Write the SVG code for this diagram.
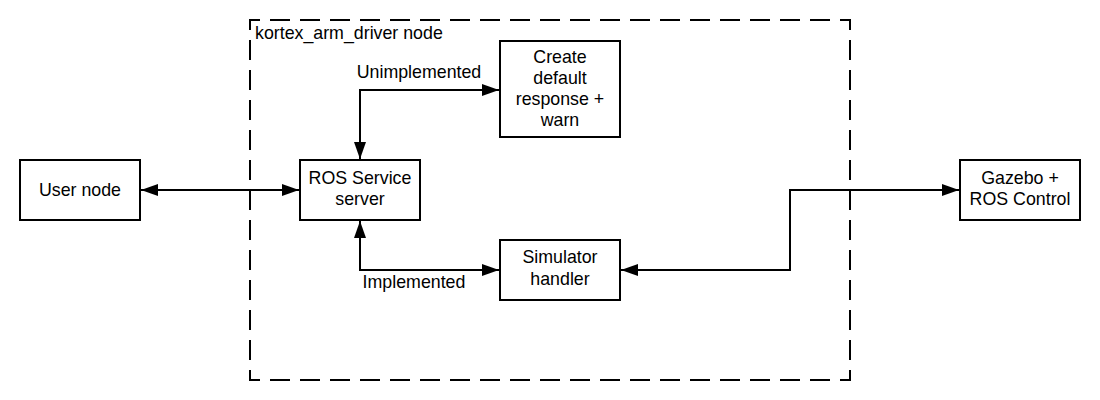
<svg xmlns="http://www.w3.org/2000/svg" width="1100" height="400" viewBox="0 0 1100 400">
  <style>
    .box { fill: #ffffff; stroke: #000000; stroke-width: 2; }
    .lbl { font-family: "Liberation Sans", Arial, sans-serif; font-size: 17.8px; fill: #000000; }
    .c { text-anchor: middle; }
    .conn { fill: none; stroke: #000000; stroke-width: 2; marker-start: url(#arr); marker-end: url(#arr); }
    .frame { fill: none; stroke: #000000; stroke-width: 2; stroke-dasharray: 20 10; }
  </style>
  <defs>
    <marker id="arr" markerUnits="userSpaceOnUse" markerWidth="18" markerHeight="12" refX="17" refY="6" orient="auto-start-reverse">
      <path d="M0,0 L17,6 L0,12 z" fill="#000000"/>
    </marker>
  </defs>
  <rect width="1100" height="400" fill="#ffffff"/>

  <g id="kortex_arm_driver">
    <path class="frame" d="M250,30 L250,20 L850,20 L850,380 L250,380 Z"/>
    <text class="lbl" x="255" y="39">kortex_arm_driver node</text>
  </g>

  <g id="connectors">
    <path class="conn" d="M141,190 L299,190"/>
    <path class="conn" d="M360,159 L360,90 L499,90"/>
    <path class="conn" d="M360,221 L360,270 L499,270"/>
    <path class="conn" d="M621,270 L790,270 L790,190 L959,190"/>
    <text class="lbl c" x="419" y="78">Unimplemented</text>
    <text class="lbl c" x="414" y="288">Implemented</text>
  </g>

  <g id="user_node">
    <rect class="box" x="20" y="160" width="120" height="60"/>
    <text class="lbl c" x="80" y="196">User node</text>
  </g>

  <g id="ros_service_server">
    <rect class="box" x="300" y="160" width="120" height="60"/>
    <text class="lbl c" x="360" y="184">ROS Service</text>
    <text class="lbl c" x="360" y="205">server</text>
  </g>

  <g id="create_default_response">
    <rect class="box" x="500" y="41" width="120" height="96"/>
    <text class="lbl c" x="560" y="63">Create</text>
    <text class="lbl c" x="560" y="84">default</text>
    <text class="lbl c" x="560" y="105">response +</text>
    <text class="lbl c" x="560" y="126">warn</text>
  </g>

  <g id="simulator_handler">
    <rect class="box" x="500" y="240" width="120" height="60"/>
    <text class="lbl c" x="560" y="263">Simulator</text>
    <text class="lbl c" x="560" y="285">handler</text>
  </g>

  <g id="gazebo_ros_control">
    <rect class="box" x="960" y="160" width="120" height="60"/>
    <text class="lbl c" x="1020" y="184">Gazebo +</text>
    <text class="lbl c" x="1020" y="205">ROS Control</text>
  </g>
</svg>
